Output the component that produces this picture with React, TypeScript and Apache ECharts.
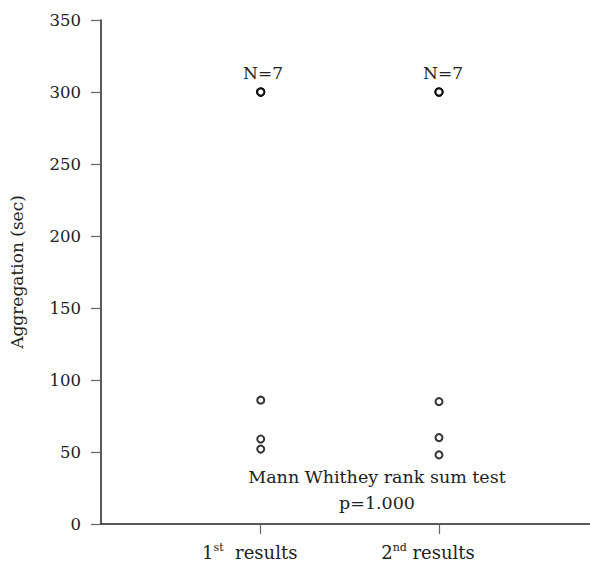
import React, { useEffect, useRef } from "react";
import * as echarts from "echarts";

const groupPositions = [1, 2];
const groupLabels = ["{n|1}{s|st}{n|  results}", "{n|2}{s|nd}{n| results}"];
const firstResults = [300, 300, 300, 300, 86, 59, 52];
const secondResults = [300, 300, 300, 300, 85, 60, 48];
const groupCounts = ["N=7", "N=7"];
const yTicks = { min: 0, max: 350, interval: 50 };

const FONT = "DejaVu Serif";
const TXT = "#222";

export default function App() {
  const ref = useRef<HTMLDivElement>(null);
  useEffect(() => {
    if (!ref.current) return;
    const chart = echarts.init(ref.current, null, { renderer: "svg" });
    const toPts = (xv: number, arr: number[]) => arr.map((v) => [xv, v]);
    chart.setOption({
      animation: false,
      backgroundColor: "#fff",
      grid: { left: 96, right: 0, top: 20, bottom: 39, containLabel: false },
      xAxis: {
        type: "value",
        min: 0.104,
        max: 2.847,
        splitLine: { show: false },
        axisLine: { show: true, lineStyle: { color: "#222", width: 1.5 } },
        axisTick: { show: true, customValues: groupPositions, length: 10, lineStyle: { color: "#666", width: 1.2 } },
        axisLabel: {
          customValues: groupPositions,
          margin: 18,
          padding: [0, 22, 0, 0],
          formatter: (v: number) => groupLabels[groupPositions.indexOf(v)] ?? "",
          rich: {
            n: { fontFamily: FONT, fontSize: 18, color: TXT },
            s: { fontFamily: FONT, fontSize: 11, color: TXT, padding: [0, 0, 10, 0] },
          },
        },
      },
      yAxis: {
        type: "value",
        min: yTicks.min,
        max: yTicks.max,
        interval: yTicks.interval,
        name: "Aggregation (sec)",
        nameLocation: "middle",
        nameGap: 76,
        nameRotate: 90,
        nameTextStyle: { fontFamily: FONT, fontSize: 17, color: TXT },
        splitLine: { show: false },
        axisLine: { show: true, lineStyle: { color: "#222", width: 1.5 } },
        axisTick: { show: true, length: 10, lineStyle: { color: "#666", width: 1.2 } },
        axisLabel: { margin: 20, fontFamily: FONT, fontSize: 16.5, color: TXT },
      },
      graphic: [
        { type: "text", x: 263, y: 73, style: { text: groupCounts[0], font: `17px "${FONT}"`, fill: TXT, align: "center", verticalAlign: "middle" } },
        { type: "text", x: 443, y: 73, style: { text: groupCounts[1], font: `17px "${FONT}"`, fill: TXT, align: "center", verticalAlign: "middle" } },
        {
          type: "text",
          x: 377,
          y: 477,
          style: { text: "Mann Whithey rank sum test", font: `17.5px "${FONT}"`, fill: TXT, align: "center", verticalAlign: "middle" },
        },
        {
          type: "text",
          x: 377,
          y: 503,
          style: { text: "p=1.000", font: `17.5px "${FONT}"`, fill: TXT, align: "center", verticalAlign: "middle" },
        },
      ],
      series: [
        {
          type: "scatter",
          symbol: "emptyCircle",
          symbolSize: 7,
          itemStyle: { color: "#000", borderColor: "#000", borderWidth: 1 },
          data: toPts(groupPositions[0], firstResults),
        },
        {
          type: "scatter",
          symbol: "emptyCircle",
          symbolSize: 7,
          itemStyle: { color: "#000", borderColor: "#000", borderWidth: 1 },
          data: toPts(groupPositions[1], secondResults),
        },
      ],
    });
    return () => chart.dispose();
  }, []);
  return <div ref={ref} style={{ position: "fixed", left: 0, top: 0, width: 590, height: 563 }} />;
}
